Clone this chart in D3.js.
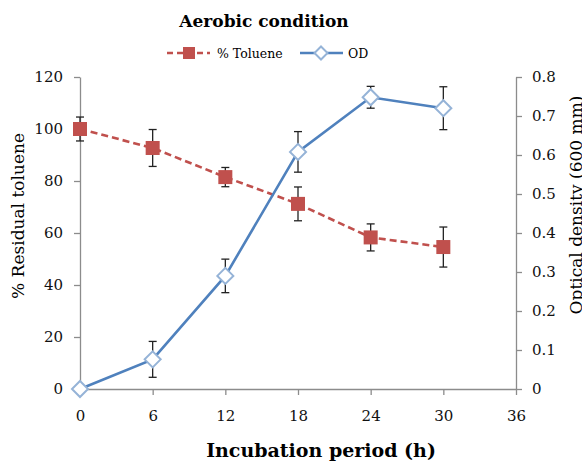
<!DOCTYPE html>
<html><head><meta charset="utf-8">
<script src="https://cdn.jsdelivr.net/npm/d3@7"></script>
<style>body{margin:0;background:#fff}svg{display:block}text{font-family:"DejaVu Serif","Liberation Serif",serif}</style>
</head><body><svg id="c" width="582" height="464"></svg>
<script>
const hours = [0, 6, 12, 18, 24, 30];
const toluene = [100, 92.7, 81.5, 71.2, 58.3, 54.6];
const tolueneErr = [4.6, 7.1, 3.7, 6.5, 5.2, 7.7];
const od = [0, 0.076, 0.29, 0.608, 0.748, 0.72];
const odErr = [0, 0.046, 0.043, 0.052, 0.028, 0.055];
const xTicks = [0, 6, 12, 18, 24, 30, 36];
const yLeftTicks = [0, 20, 40, 60, 80, 100, 120];
const yRightTicks = [0, 0.1, 0.2, 0.3, 0.4, 0.5, 0.6, 0.7, 0.8];

const svg = d3.select("#c");
const x = d3.scaleLinear().domain([0, 36]).range([80, 516]);
const yL = d3.scaleLinear().domain([0, 120]).range([389, 77]);
const yR = d3.scaleLinear().domain([0, 0.8]).range([389, 77]);
const axisCol = "#8c8c8c";

function styleAxis(g){
  g.selectAll("path,line").attr("stroke", axisCol).attr("stroke-width", 1.3);
  g.selectAll("text").attr("fill", "#111").style("font-size", "15px");
}
svg.append("g").attr("transform","translate(0,389)")
  .call(d3.axisBottom(x).tickValues(xTicks).tickSize(6).tickSizeOuter(0).tickPadding(15))
  .call(styleAxis);
svg.append("g").attr("transform","translate(80,0)")
  .call(d3.axisLeft(yL).tickValues(yLeftTicks).tickSize(6).tickSizeOuter(0).tickPadding(11))
  .call(styleAxis);
svg.append("g").attr("transform","translate(516,0)")
  .call(d3.axisRight(yR).tickValues(yRightTicks).tickFormat(d => d === 0 ? "0" : d3.format(".1f")(d)).tickSize(6).tickSizeOuter(0).tickPadding(10))
  .call(styleAxis);

// Title
svg.append("text").attr("x", 264).attr("y", 27).attr("text-anchor","middle")
  .style("font-size","17px").style("font-weight","bold").text("Aerobic condition");
// Axis titles
svg.append("text").attr("x", 321).attr("y", 457).attr("text-anchor","middle")
  .style("font-size","19px").style("font-weight","bold").text("Incubation period (h)");
svg.append("text").attr("transform","translate(24,216) rotate(-90)").attr("text-anchor","middle")
  .style("font-size","17px").text("% Residual toluene");
svg.append("text").attr("transform","translate(582,205) rotate(-90)").attr("text-anchor","middle")
  .style("font-size","17px").text("Optical density (600 mm)");

const redCol = "#c0504d", blueCol = "#4f81bd", diaCol = "#95b3d7";

// Lines
svg.append("path").datum(hours.map((h,i)=>[h,toluene[i]]))
  .attr("d", d3.line().x(d=>x(d[0])).y(d=>yL(d[1])))
  .attr("fill","none").attr("stroke", redCol).attr("stroke-width", 2.6).attr("stroke-dasharray","7,4");
svg.append("path").datum(hours.map((h,i)=>[h,od[i]]))
  .attr("d", d3.line().x(d=>x(d[0])).y(d=>yR(d[1])))
  .attr("fill","none").attr("stroke", blueCol).attr("stroke-width", 2.6);

// Error bars
function errBars(vals, errs, sc){
  const g = svg.append("g").attr("stroke","#222").attr("stroke-width",1.3);
  hours.forEach((h,i)=>{
    if (!errs[i]) return;
    const cx = x(h), t = sc(vals[i]+errs[i]), b = sc(vals[i]-errs[i]);
    g.append("line").attr("x1",cx).attr("x2",cx).attr("y1",t).attr("y2",b);
    g.append("line").attr("x1",cx-4).attr("x2",cx+4).attr("y1",t).attr("y2",t);
    g.append("line").attr("x1",cx-4).attr("x2",cx+4).attr("y1",b).attr("y2",b);
  });
}
errBars(toluene, tolueneErr, yL);
errBars(od, odErr, yR);

// Markers
svg.append("g").selectAll("rect").data(hours).join("rect")
  .attr("x", (h)=>x(h)-7).attr("y", (h,i)=>yL(toluene[i])-7).attr("width",14).attr("height",14)
  .attr("fill", redCol);
const diamond = s => `M0,${-s}L${s},0L0,${s}L${-s},0Z`;
svg.append("g").selectAll("path").data(hours).join("path")
  .attr("transform",(h,i)=>`translate(${x(h)},${yR(od[i])})`).attr("d", diamond(8))
  .attr("fill","#fff").attr("stroke", diaCol).attr("stroke-width",2);

// Legend
const lg = svg.append("g");
lg.append("line").attr("x1",167).attr("x2",210).attr("y1",53).attr("y2",53)
  .attr("stroke",redCol).attr("stroke-width",2.6).attr("stroke-dasharray","6,4");
lg.append("rect").attr("x",183).attr("y",47).attr("width",12).attr("height",12).attr("fill",redCol);
lg.append("text").attr("x",217).attr("y",58).style("font-size","12.5px").text("% Toluene");
lg.append("line").attr("x1",300).attr("x2",343).attr("y1",53).attr("y2",53)
  .attr("stroke",blueCol).attr("stroke-width",2.6);
lg.append("path").attr("transform","translate(321,53)").attr("d",diamond(6.5))
  .attr("fill","#fff").attr("stroke",diaCol).attr("stroke-width",2);
lg.append("text").attr("x",348).attr("y",58).style("font-size","12.5px").text("OD");
</script></body></html>
